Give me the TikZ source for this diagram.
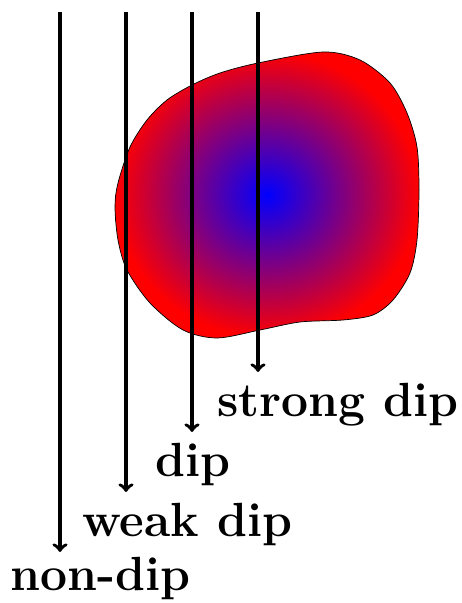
\documentclass[tikz,border=0pt]{standalone}
\usetikzlibrary{arrows}

\begin{document}
\begin{tikzpicture}[
  dipArrow/.style={->,line width=2pt},
  dipLabel/.style={anchor=base west,inner sep=0pt,font=\fontsize{27.3}{33}\selectfont\bfseries}]
\useasboundingbox (0,0) rectangle (9.24,12.06);
% the blob
\shadedraw[inner color=blue,outer color=red,draw=black,thin]
  plot[smooth cycle,tension=0.5] coordinates {
    (6.46,11.02) (7.20,10.86) (7.80,10.40) (8.14,9.80) (8.34,9.12) (8.38,8.26)
    (8.34,7.26) (8.20,6.60) (7.86,6.06) (7.46,5.76) (6.86,5.66) (6.00,5.62)
    (5.20,5.46) (4.34,5.30) (3.66,5.46) (3.00,6.00) (2.54,6.66) (2.36,7.26)
    (2.30,7.92) (2.36,8.40) (2.60,9.12) (2.94,9.66) (3.34,10.06) (3.84,10.36)
    (4.40,10.60) (5.16,10.80)};
% the four rays
\foreach \name/\x/\y in {nondip/1.20/1.02,weak/2.52/2.22,dip/3.84/3.42,strong/5.16/4.62}
{
  \coordinate (\name-top) at (\x,11.82);
  \coordinate (\name-end) at (\x,\y);
  \draw[dipArrow] (\name-top) -- (\name-end);
}
\node[dipLabel] (nondip-lbl) at (0.20,0.26) {non-dip};
\node[dipLabel] (weak-lbl) at (1.64,1.32) {weak dip};
\node[dipLabel] (dip-lbl) at (3.10,2.52) {dip};
\node[dipLabel] (strong-lbl) at (4.34,3.72) {strong dip};
\end{tikzpicture}
\end{document}
